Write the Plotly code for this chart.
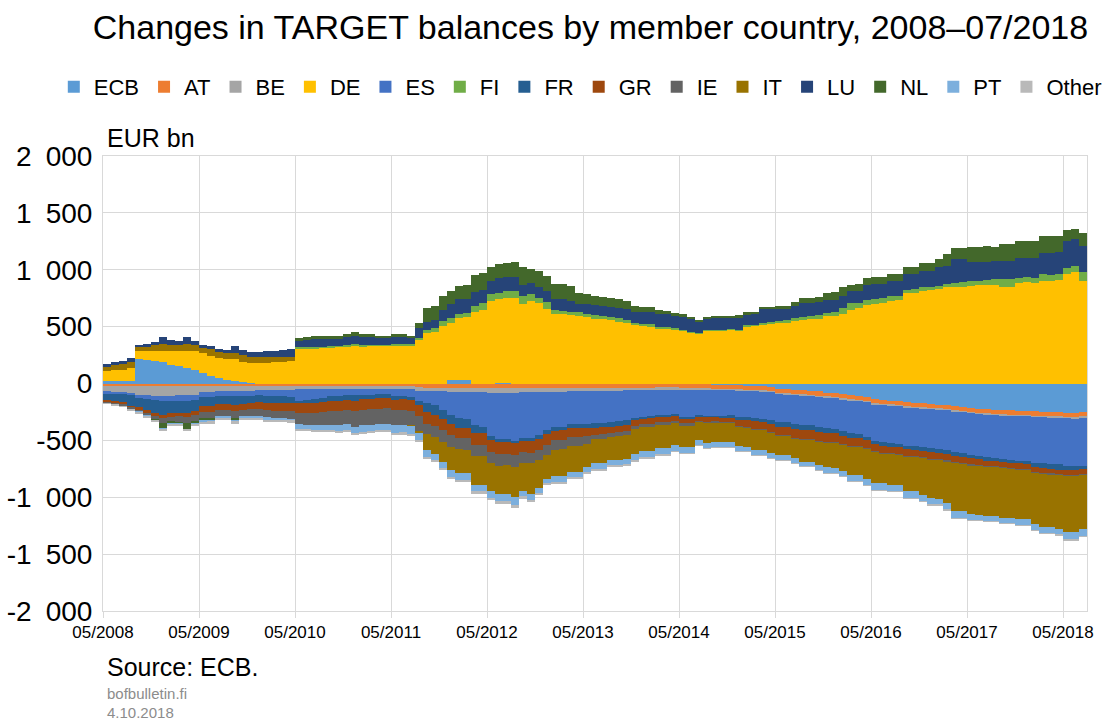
import plotly.graph_objects as go

# Month index 0 = 05/2008 ... 122 = 07/2018 (rows: May..April)
ECB = [20, 20, 22, 25, 215, 205, 200, 190, 165, 155, 140, 115,
       95, 65, 45, 32, 22, 12, 5, 0, 0, 0, 0, 0,
       0, 0, 0, 0, 0, 0, 0, 0, 0, 0, 0, 0,
       0, 0, 0, 0, 0, 0, 0, 35, 35, 35, 0, 0,
       0, 8, 8, 0, 0, 0, 0, 0, 0, 0, 0, 0,
       0, 0, 0, 0, 0, 0, 0, 0, 0, 0, 0, 0,
       -5, -5, -8, -8, -10, -10, -12, -15, -18, -20, -25, -30,
       -45, -50, -55, -60, -65, -70, -80, -85, -95, -105, -110, -120,
       -140, -145, -150, -155, -165, -170, -175, -180, -185, -190, -200, -205,
       -215, -220, -225, -230, -235, -237, -240, -242, -245, -248, -250, -252,
       -255, -258, -250]
AT = [-18, -18, -18, -20, -20, -20, -20, -20, -20, -20, -20, -20,
      -18, -18, -18, -18, -18, -18, -18, -18, -18, -18, -18, -18,
      -22, -22, -22, -22, -22, -22, -22, -22, -22, -22, -22, -22,
      -22, -22, -22, -35, -38, -38, -38, -38, -38, -38, -38, -38,
      -40, -40, -40, -40, -40, -40, -40, -38, -38, -38, -38, -38,
      -38, -38, -38, -38, -38, -38, -38, -38, -38, -38, -38, -38,
      -40, -40, -40, -40, -40, -40, -40, -40, -40, -40, -40, -40,
      -40, -40, -40, -40, -40, -40, -38, -38, -38, -38, -38, -38,
      -38, -38, -38, -38, -38, -38, -38, -38, -38, -38, -40, -40,
      -40, -40, -40, -40, -40, -40, -40, -40, -42, -42, -42, -42,
      -42, -42, -42]
BE = [-55, -58, -60, -65, -80, -85, -88, -90, -88, -85, -85, -80,
      -55, -55, -50, -50, -50, -48, -45, -42, -42, -40, -40, -40,
      -28, -28, -28, -26, -26, -26, -25, -25, -25, -25, -25, -25,
      -25, -25, -28, -30, -30, -30, -32, -35, -35, -35, -40, -40,
      -40, -42, -42, -42, -38, -38, -35, -35, -35, -35, -32, -32,
      -30, -28, -28, -25, -25, -22, -20, -18, -18, -16, -16, -15,
      -10, -10, -8, -8, -8, -8, -8, -8, -8, -8, -8, -8,
      -8, -8, -8, -8, -8, -8, -8, -8, -8, -8, -8, -8,
      -8, -8, -8, -8, -8, -8, -8, -8, -8, -8, -8, -8,
      -8, -8, -8, -8, -8, -8, -8, -8, -8, -8, -8, -8,
      -8, -8, -8]
DE = [90, 95, 100, 110, 70, 80, 90, 100, 120, 130, 145, 170,
      170, 180, 180, 180, 190, 175, 175, 178, 180, 185, 190, 195,
      305, 310, 312, 315, 318, 322, 325, 335, 328, 330, 330, 332,
      335, 338, 335, 380, 440, 455, 505, 500, 540, 550, 630, 650,
      725, 732, 742, 755, 700, 725, 712, 655, 615, 610, 598, 595,
      585, 570, 565, 560, 545, 535, 515, 510, 505, 485, 480, 475,
      465, 450, 440, 465, 468, 470, 472, 470, 505, 508, 520, 525,
      535, 540, 550, 560, 565, 570, 590, 595, 610, 650, 660, 690,
      700, 705, 725, 730, 795, 800, 815, 818, 830, 845, 845, 850,
      860, 862, 865, 870, 848, 850, 885, 890, 880, 905, 900, 910,
      960, 976, 903]
ES = [-15, -15, -18, -20, -30, -35, -40, -45, -45, -45, -45, -45,
      -45, -45, -45, -45, -45, -45, -45, -45, -50, -52, -55, -58,
      -100, -95, -90, -80, -65, -60, -55, -55, -50, -50, -48, -48,
      -60, -62, -68, -85, -100, -120, -160, -200, -230, -240, -290, -300,
      -380, -405, -410, -420, -400, -400, -380, -340, -310, -305, -290, -290,
      -285, -285, -280, -275, -270, -265, -245, -235, -230, -225, -225, -220,
      -240, -240, -225, -230, -230, -230, -225, -230, -230, -235, -235, -240,
      -245, -240, -250, -255, -255, -260, -265, -265, -275, -285, -290, -300,
      -320, -325, -330, -330, -335, -335, -340, -345, -345, -350, -355, -360,
      -365, -370, -375, -375, -380, -385, -390, -395, -400, -405, -405, -410,
      -420, -420, -422]
FI = [0, 0, 0, 0, 0, 0, 0, 0, 0, 0, 0, 0,
      0, 0, 0, 0, 0, 0, 0, 0, 0, 0, 0, 0,
      12, 10, 10, 10, 10, 10, 10, 12, 10, 10, 10, 10,
      10, 10, 10, 20, 28, 30, 44, 45, 35, 35, 55, 58,
      60, 58, 60, 60, 65, 58, 44, 58, 30, 30, 30, 30,
      28, 28, 28, 26, 28, 26, 18, 15, 15, 15, 15, 15,
      5, 5, 3, 3, 3, 3, 3, 3, 5, 5, 12, 12,
      15, 15, 28, 28, 28, 30, 30, 30, 55, 55, 50, 45,
      45, 45, 45, 42, 30, 30, 30, 30, 30, 30, 42, 42,
      44, 42, 45, 48, 70, 72, 45, 45, 48, 55, 58, 55,
      58, 58, 73]
FR = [-60, -68, -75, -90, -80, -95, -110, -120, -110, -105, -110, -95,
      -80, -78, -70, -68, -72, -65, -62, -60, -62, -62, -58, -55,
      -20, -25, -28, -35, -45, -45, -42, -48, -40, -38, -35, -32,
      -35, -30, -28, -40, -85, -85, -80, -80, -85, -80, -70, -60,
      -40, -30, -25, -25, -28, -30, -30, -35, -35, -35, -35, -35,
      -40, -40, -40, -40, -42, -40, -20, -18, -20, -15, -15, -12,
      -15, -15, -10, -12, -10, -12, -15, -25, -25, -28, -30, -35,
      -40, -40, -45, -45, -40, -45, -45, -40, -45, -45, -35, -35,
      -30, -30, -30, -30, -30, -30, -30, -35, -35, -35, -30, -30,
      -30, -30, -30, -25, -28, -25, -25, -25, -35, -40, -45, -45,
      -35, -32, -30]
GR = [-15, -15, -17, -20, -20, -22, -25, -30, -30, -32, -35, -40,
      -50, -52, -50, -52, -55, -55, -58, -60, -65, -68, -70, -72,
      -85, -88, -88, -88, -88, -90, -90, -92, -92, -92, -90, -90,
      -92, -92, -95, -100, -100, -100, -100, -100, -90, -90, -100, -100,
      -100, -105, -100, -105, -95, -100, -100, -95, -80, -82, -75, -75,
      -70, -60, -60, -55, -55, -55, -50, -48, -48, -45, -45, -45,
      -45, -45, -40, -42, -40, -42, -45, -60, -62, -70, -70, -75,
      -80, -82, -85, -88, -85, -85, -82, -80, -78, -75, -72, -70,
      -65, -65, -62, -62, -65, -63, -62, -62, -60, -60, -60, -60,
      -58, -55, -55, -52, -50, -50, -50, -48, -48, -48, -45, -45,
      -45, -45, -45]
IE = [-10, -11, -12, -15, -20, -25, -35, -45, -45, -48, -50, -50,
      -60, -62, -60, -60, -62, -62, -62, -63, -66, -68, -70, -72,
      -105, -108, -112, -115, -118, -122, -125, -140, -140, -138, -137, -135,
      -135, -132, -128, -125, -95, -95, -100, -105, -100, -100, -100, -100,
      -100, -100, -100, -105, -95, -95, -90, -85, -85, -85, -80, -78,
      -70, -40, -40, -35, -35, -30, -30, -28, -28, -25, -25, -20,
      -15, -15, -10, -10, -8, -8, -6, -5, -5, -5, -5, -5,
      -5, -5, -5, -5, -5, -5, -5, -5, -5, -5, -5, -5,
      -5, -5, -5, -5, -5, -5, -5, -5, -5, -5, -5, -5,
      -5, -5, -5, -5, -5, -5, -5, -5, -5, -5, -5, -5,
      -5, -5, -5]
IT = [38, 48, 50, 55, 35, 40, 45, 55, 55, 50, 60, 55,
      45, 55, 50, 52, 60, 60, 55, 55, 55, 50, 45, 40,
      0, 0, 0, 0, 0, 0, 0, 0, 0, 0, 0, 0,
      0, 0, -3, -20, -140, -150, -180, -200, -210, -205, -250, -250,
      -245, -250, -255, -265, -250, -270, -245, -215, -230, -235, -225, -228,
      -200, -210, -215, -205, -208, -210, -220, -210, -215, -205, -205, -195,
      -185, -185, -155, -170, -165, -162, -162, -170, -168, -180, -175, -180,
      -165, -165, -170, -185, -190, -200, -215, -218, -225, -245, -250, -260,
      -265, -260, -268, -265, -300, -300, -320, -335, -335, -365, -420, -415,
      -430, -425, -430, -432, -435, -430, -435, -430, -450, -465, -462, -470,
      -495, -495, -475]
LU = [25, 30, 30, 35, 20, 25, 30, 65, 40, 35, 65, 38,
      32, 33, 30, 31, 60, 48, 40, 42, 49, 55, 60, 69,
      60, 65, 68, 67, 65, 63, 70, 72, 70, 68, 60, 58,
      62, 58, 55, 85, 72, 75, 100, 115, 130, 125, 120, 118,
      115, 130, 128, 118, 105, 100, 90, 102, 100, 102, 100, 75,
      88, 88, 90, 88, 88, 90, 100, 100, 105, 115, 115, 105,
      115, 115, 100, 100, 112, 110, 108, 110, 100, 98, 120, 115,
      105, 100, 105, 120, 118, 115, 110, 105, 105, 105, 105, 130,
      128, 125, 130, 132, 135, 132, 145, 145, 160, 160, 205, 200,
      165, 165, 160, 155, 160, 158, 175, 172, 178, 190, 192, 188,
      235, 234, 234]
NL = [0, 0, 0, 0, 0, 0, -5, -45, -15, -18, -55, -20,
      -15, -12, 0, 0, -20, 0, 0, 0, 0, 0, 0, 0,
      25, 27, 25, 25, 27, 25, 30, 30, 27, 25, 22, 21,
      28, 25, 20, 45, 120, 120, 120, 120, 120, 118, 150, 145,
      120, 125, 120, 131, 150, 120, 139, 132, 130, 132, 132, 100,
      86, 80, 80, 78, 78, 75, 50, 45, 45, 32, 30, 25,
      28, 12, 10, 14, 12, 13, 13, 15, 15, 16, 18, 18,
      28, 30, 30, 45, 45, 45, 70, 72, 75, 60, 60, 60,
      60, 60, 60, 60, 65, 66, 65, 65, 73, 100, 98, 98,
      133, 130, 135, 130, 147, 145, 145, 148, 148, 145, 148, 147,
      95, 88, 117]
PT = [0, 0, 0, 0, -6, -8, -6, -7, -5, -5, -8, -8,
      -12, -12, -12, -12, -12, -12, -12, -12, -14, -13, -12, -14,
      -40, -42, -47, -50, -52, -54, -56, -60, -58, -58, -60, -62,
      -72, -72, -72, -70, -60, -60, -60, -65, -62, -62, -65, -65,
      -66, -68, -68, -72, -50, -52, -50, -40, -55, -55, -52, -52,
      -50, -52, -52, -52, -52, -52, -58, -57, -57, -56, -56, -52,
      -57, -57, -45, -50, -50, -49, -48, -47, -44, -44, -42, -46,
      -45, -43, -45, -46, -44, -48, -52, -51, -51, -57, -55, -57,
      -66, -61, -60, -58, -64, -61, -61, -60, -57, -61, -67, -62,
      -49, -47, -46, -47, -48, -49, -51, -51, -55, -56, -55, -54,
      -70, -70, -69]
OTHER = [-5, -5, -5, -7, -10, -10, -10, -10, -10, -10, -10, -10,
         -19, -20, -20, -20, -20, -20, -18, -18, -18, -18, -16, -16,
         -12, -12, -12, -11, -11, -11, -12, -14, -13, -13, -13, -13,
         -15, -15, -12, -10, -13, -12, -13, -13, -15, -15, -15, -15,
         -15, -16, -16, -17, -16, -16, -12, -12, -12, -10, -9, -8,
         -9, -10, -10, -9, -9, -8, -9, -9, -7, -7, -7, -5,
         -5, -5, -3, -3, -3, -3, -3, -2, -2, -2, -2, -2,
         -2, -2, -2, -2, -2, -2, -2, -2, -2, -2, -2, -2,
         -2, -2, -2, -2, -2, -2, -2, -2, -2, -2, -2, -2,
         -2, -2, -2, -2, -2, -2, -2, -2, -2, -2, -2, -2,
         -2, -2, -2]

SERIES = [("ECB", ECB, "#5B9BD5"), ("AT", AT, "#ED7D31"), ("BE", BE, "#A5A5A5"),
          ("DE", DE, "#FFC000"), ("ES", ES, "#4472C4"), ("FI", FI, "#70AD47"),
          ("FR", FR, "#255E91"), ("GR", GR, "#9E480E"), ("IE", IE, "#636363"),
          ("IT", IT, "#997300"), ("LU", LU, "#264478"), ("NL", NL, "#43682B"),
          ("PT", PT, "#7CAFDD"), ("Other", OTHER, "#B9B9B9")]

N_MONTHS = 123
for name, vals, _ in SERIES:
    assert len(vals) == N_MONTHS, (name, len(vals))

X_TICK_POS = [0, 12, 24, 36, 48, 60, 72, 84, 96, 108, 120]
X_TICK_LABELS = ["05/2008", "05/2009", "05/2010", "05/2011", "05/2012", "05/2013",
                 "05/2014", "05/2015", "05/2016", "05/2017", "05/2018"]
Y_TICK_VALS = [2000, 1500, 1000, 500, 0, -500, -1000, -1500, -2000]
Y_TICK_LABELS = ["2\u2002000", "1\u2002500", "1\u2002000", "500", "0", "-500",
                 "-1\u2002000", "-1\u2002500", "-2\u2002000"]

FONT = "Liberation Sans, Arial, Helvetica, sans-serif"
GRID = "#D9D9D9"

xs = [i + 0.5 for i in range(N_MONTHS)]
fig = go.Figure()
for name, vals, color in SERIES:
    fig.add_trace(go.Bar(x=xs, y=vals, name=name, width=1.0,
                         marker=dict(color=color, line=dict(width=0)),
                         hoverinfo="skip"))

fig.update_layout(
    width=1107, height=725,
    barmode="relative", bargap=0,
    plot_bgcolor="white", paper_bgcolor="white",
    margin=dict(l=103, r=20, t=156, b=114, autoexpand=False),
    font=dict(family=FONT, color="#000000"),
    title=dict(text="Changes in TARGET balances by member country, 2008\u201307/2018",
               xref="paper", x=0.4954, xanchor="center", y=1 - 27 / 725, yanchor="middle",
               font=dict(size=34, family=FONT, color="#000000")),
    legend=dict(orientation="h", x=-0.05, xanchor="left", y=1.1516, yanchor="middle",
                font=dict(size=22, family=FONT), traceorder="normal",
                itemclick=False, itemdoubleclick=False, bgcolor="rgba(0,0,0,0)"),
    showlegend=True,
)
fig.update_xaxes(range=[0, N_MONTHS], tickmode="array", tickvals=X_TICK_POS,
                 ticktext=X_TICK_LABELS, tickfont=dict(size=17, family=FONT),
                 showgrid=True, gridcolor=GRID, gridwidth=1,
                 showline=True, linecolor=GRID, mirror=True, automargin=False,
                 ticks="outside", ticklen=6, tickcolor=GRID, zeroline=False)
fig.update_yaxes(range=[-2000, 2000], tickmode="array", tickvals=Y_TICK_VALS,
                 ticktext=Y_TICK_LABELS, tickfont=dict(size=28, family=FONT),
                 showgrid=True, gridcolor=GRID, gridwidth=1,
                 showline=True, linecolor=GRID, mirror=True, automargin=False,
                 zeroline=True, zerolinecolor=GRID, zerolinewidth=1,
                 ticks="", ticklabelstandoff=4)

fig.add_annotation(text="EUR bn", xref="paper", yref="paper", x=0, y=1,
                   xanchor="left", yanchor="bottom", xshift=2, yshift=2,
                   showarrow=False, font=dict(size=25, family=FONT, color="#000000"))
fig.add_annotation(text="Source: ECB.", xref="paper", yref="paper", x=0, y=0,
                   xanchor="left", yanchor="middle", xshift=2, yshift=-56,
                   showarrow=False, font=dict(size=25, family=FONT, color="#000000"))
fig.add_annotation(text="bofbulletin.fi", xref="paper", yref="paper", x=0, y=0,
                   xanchor="left", yanchor="middle", xshift=2, yshift=-82,
                   showarrow=False, font=dict(size=15, family=FONT, color="#8C8C8C"))
fig.add_annotation(text="4.10.2018", xref="paper", yref="paper", x=0, y=0,
                   xanchor="left", yanchor="middle", xshift=2, yshift=-101,
                   showarrow=False, font=dict(size=15, family=FONT, color="#8C8C8C"))

fig.write_html("out.html", config={"displayModeBar": False},
               post_script="document.body.style.margin='0';")
